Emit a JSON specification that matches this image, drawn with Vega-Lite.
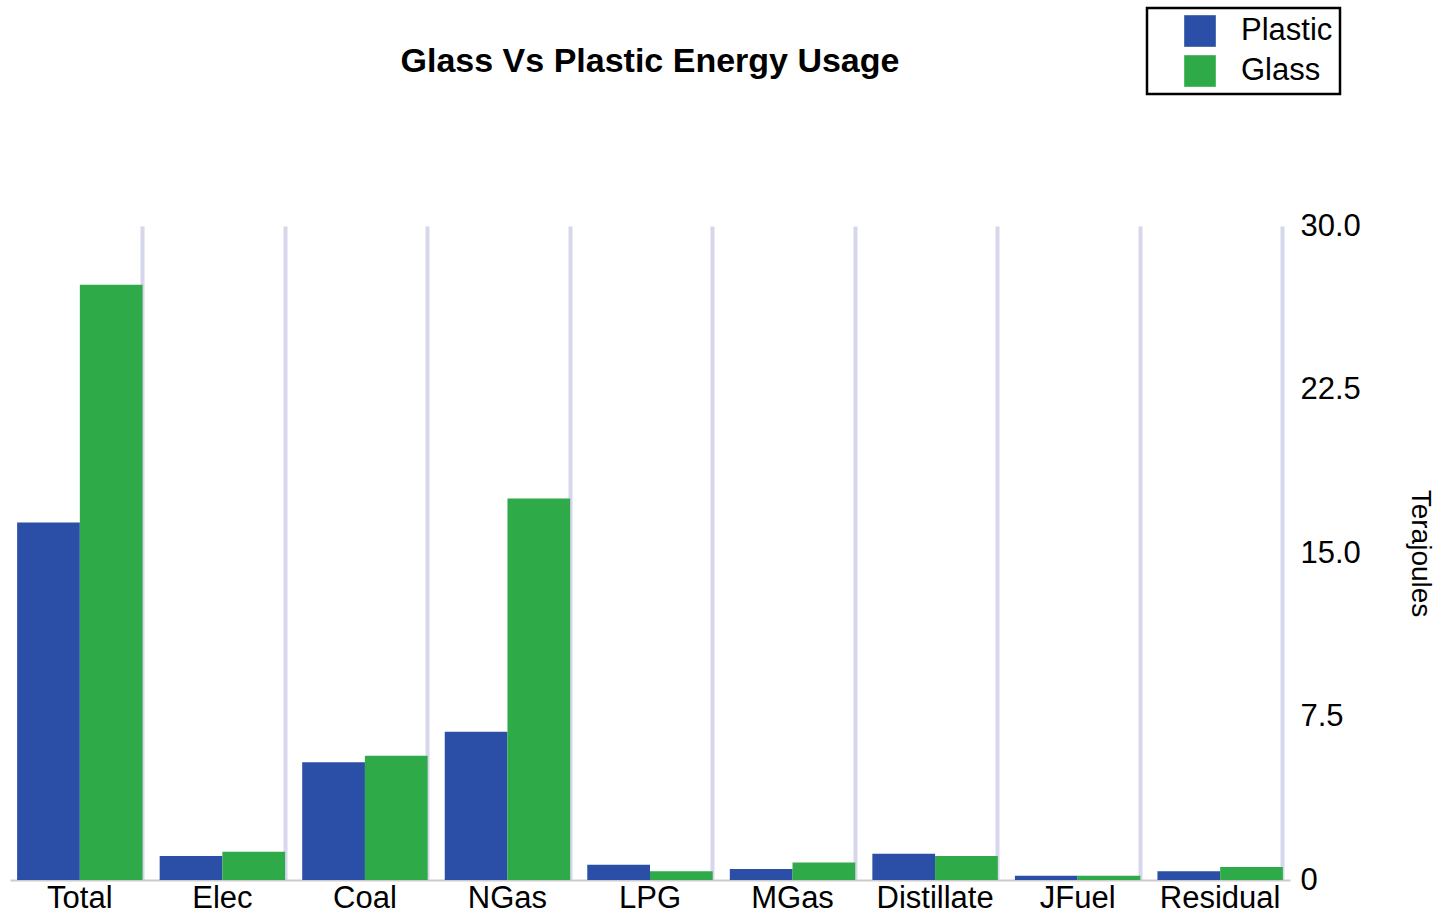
{
  "$schema": "https://vega.github.io/schema/vega-lite/v6.json",
  "autosize": {"type": "none"},
  "width": 1280,
  "height": 654,
  "padding": {"left": 10, "top": 226, "right": 155, "bottom": 37},
  "background": "white",
  "title": {
    "text": "Glass Vs Plastic Energy Usage",
    "font": "Liberation Sans",
    "fontSize": 34,
    "fontWeight": "bold",
    "color": "#000000",
    "anchor": "middle",
    "frame": "group",
    "offset": -72
  },
  "data": {
    "values": [
      {"category": "Total", "material": "Plastic", "value": 16.4},
      {"category": "Total", "material": "Glass", "value": 27.3},
      {"category": "Elec", "material": "Plastic", "value": 1.1},
      {"category": "Elec", "material": "Glass", "value": 1.3},
      {"category": "Coal", "material": "Plastic", "value": 5.4},
      {"category": "Coal", "material": "Glass", "value": 5.7},
      {"category": "NGas", "material": "Plastic", "value": 6.8},
      {"category": "NGas", "material": "Glass", "value": 17.5},
      {"category": "LPG", "material": "Plastic", "value": 0.7},
      {"category": "LPG", "material": "Glass", "value": 0.4},
      {"category": "MGas", "material": "Plastic", "value": 0.5},
      {"category": "MGas", "material": "Glass", "value": 0.8},
      {"category": "Distillate", "material": "Plastic", "value": 1.2},
      {"category": "Distillate", "material": "Glass", "value": 1.1},
      {"category": "JFuel", "material": "Plastic", "value": 0.2},
      {"category": "JFuel", "material": "Glass", "value": 0.2},
      {"category": "Residual", "material": "Plastic", "value": 0.4},
      {"category": "Residual", "material": "Glass", "value": 0.6}
    ]
  },
  "mark": {"type": "bar"},
  "encoding": {
    "x": {
      "field": "category",
      "type": "nominal",
      "sort": ["Total", "Elec", "Coal", "NGas", "LPG", "MGas", "Distillate", "JFuel", "Residual"],
      "scale": {"paddingInner": 0.12, "paddingOuter": 0.05},
      "axis": {
        "title": null,
        "labelAngle": 0,
        "labelFont": "Liberation Sans",
        "labelFontSize": 31,
        "labelColor": "#000000",
        "labelPadding": 3,
        "ticks": false,
        "domain": true,
        "domainColor": "#cccccc",
        "domainWidth": 2,
        "grid": true,
        "gridColor": "#d6d6ec",
        "gridWidth": 4,
        "bandPosition": 1
      }
    },
    "xOffset": {"field": "material", "type": "nominal", "sort": ["Plastic", "Glass"], "scale": {"paddingInner": 0}},
    "y": {
      "field": "value",
      "type": "quantitative",
      "scale": {"domain": [0, 30], "nice": false},
      "axis": {
        "orient": "right",
        "values": [0, 7.5, 15, 22.5, 30],
        "labelExpr": "datum.value == 0 ? '0' : format(datum.value, '.1f')",
        "labelFont": "Liberation Sans",
        "labelFontSize": 31,
        "labelColor": "#000000",
        "labelPadding": 10,
        "ticks": false,
        "domain": false,
        "grid": false,
        "title": "Terajoules",
        "titleFont": "Liberation Sans",
        "titleFontSize": 28,
        "titleFontWeight": "normal",
        "titleColor": "#000000",
        "titleAngle": 90,
        "titlePadding": 45
      }
    },
    "color": {
      "field": "material",
      "type": "nominal",
      "sort": ["Plastic", "Glass"],
      "scale": {"domain": ["Plastic", "Glass"], "range": ["#2b4ea6", "#2eaa48"]},
      "legend": {
        "orient": "none",
        "legendX": 1137,
        "legendY": -218,
        "title": null,
        "symbolType": "square",
        "symbolSize": 1000,
        "symbolStrokeWidth": 0,
        "symbolOffset": 30,
        "labelFont": "Liberation Sans",
        "labelFontSize": 31,
        "labelColor": "#000000",
        "labelOffset": 25,
        "rowPadding": 8,
        "strokeColor": "#000000",
        "padding": 7,
        "fillColor": "white",
        "encode": {"legend": {"update": {"strokeWidth": {"value": 2.5}}}}
      }
    }
  },
  "config": {"view": {"stroke": null}}
}
